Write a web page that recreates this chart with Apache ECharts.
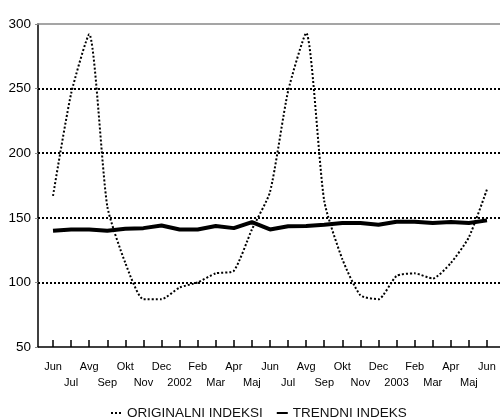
<!DOCTYPE html>
<html>
<head>
<meta charset="utf-8">
<script src="https://cdn.jsdelivr.net/npm/echarts@6/dist/echarts.min.js"></script>
<style>
html,body{margin:0;padding:0;background:#fff;}
#c{width:500px;height:419px;}
</style>
</head>
<body>
<div id="c"></div>
<script>
var months = ['Jun','Jul','Avg','Sep','Okt','Nov','Dec','2002','Feb','Mar','Apr','Maj',
              'Jun','Jul','Avg','Sep','Okt','Nov','Dec','2003','Feb','Mar','Apr','Maj','Jun'];
var originalni = [167, 246, 292, 159, 115, 87, 87, 96, 100, 107, 109, 141,
                  170, 248, 293, 163, 118, 90, 87, 105, 107, 103, 115, 135, 172];
var trendni = [140, 141, 141, 140, 141.5, 142, 144, 141, 141, 143.6, 142, 146.7,
               141, 143.5, 143.6, 144.6, 146, 146, 144.6, 147, 147, 146, 146.7, 146, 148];
var yTicks = [50, 100, 150, 200, 250, 300];

var idx = months.map(function(_, i){ return i; });
function pairs(arr){ return arr.map(function(v, i){ return [i, v]; }); }

var chart = echarts.init(document.getElementById('c'), null, {renderer:'canvas'});
var font = 'Arial, "Liberation Sans", sans-serif';
chart.setOption({
  animation: false,
  backgroundColor: '#fff',
  grid: {left: 38, right: 0, top: 24, bottom: 72, containLabel: false},
  legend: {
    left: 105, top: 401,
    itemWidth: 11, itemHeight: 14, itemGap: 13,
    textStyle: {fontFamily: font, fontSize: 13.5, color: '#111'},
    data: [
      {name: 'ORIGINALNI INDEKSI', itemStyle: {opacity: 0}},
      {name: 'TRENDNI INDEKS', itemStyle: {opacity: 0}}
    ]
  },
  xAxis: [{
    type: 'value',
    min: -0.83, max: 24.72,
    axisLine: {show: true, onZero: false, lineStyle: {color: '#000', width: 1.5}},
    axisTick: {show: true, inside: true, length: 7, customValues: idx, lineStyle: {color: '#000', width: 1.5}},
    splitLine: {show: false},
    axisLabel: {
      customValues: idx,
      margin: 12,
      fontFamily: font, fontSize: 11, color: '#000', lineHeight: 16,
      formatter: function(v){ var i = Math.round(v); return (i % 2 === 0) ? months[i] : '\n' + months[i]; }
    }
  }, {
    type: 'value', position: 'top',
    min: -0.83, max: 24.72,
    axisLine: {show: true, onZero: false, lineStyle: {color: '#888', width: 1.5}},
    axisTick: {show: false}, axisLabel: {show: false}, splitLine: {show: false}
  }],
  yAxis: {
    type: 'value', min: 50, max: 300, interval: 50,
    axisLine: {show: true, onZero: false, lineStyle: {color: '#000', width: 1.5}},
    axisTick: {show: true, length: 3, lineStyle: {color: '#888', width: 1}},
    axisLabel: {fontFamily: font, fontSize: 13.5, color: '#000', margin: 7,
      customValues: yTicks},
    splitLine: {show: true, showMinLine: false, showMaxLine: false,
      lineStyle: {color: '#000', width: 2, type: [2, 2]}}
  },
  series: [{
    name: 'ORIGINALNI INDEKSI',
    type: 'line',
    data: pairs(originalni),
    symbol: 'none',
    smooth: 0.2,
    lineStyle: {color: '#000', width: 2, type: [2, 2]},
    itemStyle: {color: '#000'},
    z: 3
  }, {
    name: 'TRENDNI INDEKS',
    type: 'line',
    data: pairs(trendni),
    symbol: 'none',
    lineStyle: {color: '#000', width: 4},
    itemStyle: {color: '#000'},
    z: 4
  }]
});
</script>
</body>
</html>
